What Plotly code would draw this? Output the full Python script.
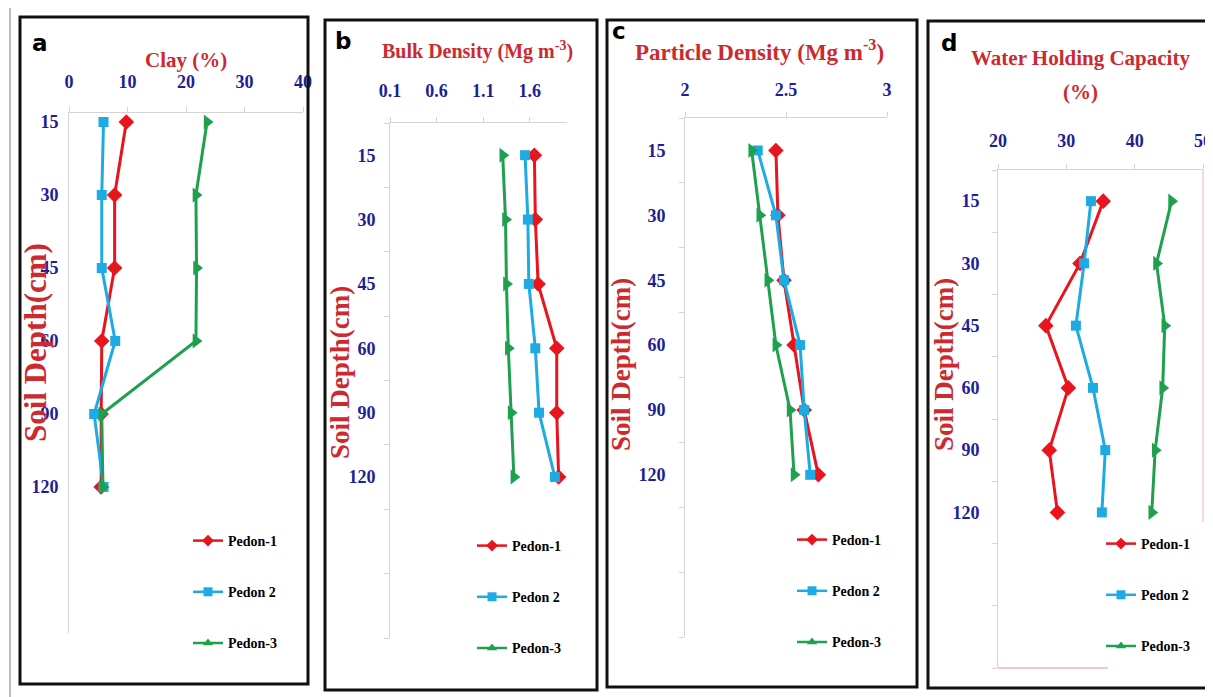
import plotly.graph_objects as go

# ---------------- data ----------------
depths = ["15", "30", "45", "60", "90", "120"]
series_names = ["Pedon-1", "Pedon 2", "Pedon-3"]

clay_p1 = [9.8, 7.8, 7.8, 5.6, 5.5, 5.5]
clay_p2 = [5.9, 5.6, 5.6, 7.9, 4.3, 5.9]
clay_p3 = [23.6, 21.7, 21.8, 21.7, 5.6, 5.8]

bd_p1 = [1.65, 1.66, 1.69, 1.89, 1.89, 1.91]
bd_p2 = [1.55, 1.58, 1.59, 1.66, 1.70, 1.87]
bd_p3 = [1.31, 1.34, 1.35, 1.37, 1.40, 1.43]

pd_p1 = [2.45, 2.46, 2.49, 2.54, 2.59, 2.66]
pd_p2 = [2.36, 2.45, 2.49, 2.57, 2.59, 2.62]
pd_p3 = [2.33, 2.37, 2.41, 2.45, 2.52, 2.54]

whc_p1 = [35.4, 32.0, 27.0, 30.3, 27.5, 28.7]
whc_p2 = [33.6, 32.6, 31.4, 33.9, 35.7, 35.2]
whc_p3 = [45.4, 43.2, 44.4, 44.1, 43.0, 42.5]

clay_ticks = [0, 10, 20, 30, 40]
bd_ticks = [0.1, 0.6, 1.1, 1.6]
pd_ticks = [2, 2.5, 3]
whc_ticks = [20, 30, 40, 50]

# ---------------- styling ----------------
W, H = 1213, 697
OFF = 8  # page body margin
def px(x): return (x - OFF) / W
def py(y): return 1 - (y - OFF) / H

colors = ["#e8141e", "#1eaae2", "#1fa04f"]
symbols = ["diamond", "square", "triangle-right"]
leg_symbols = ["diamond", "square", "triangle-up"]
sizes = [12, 10, 13]
title_red = "#cc2a2e"
tick_blue = "#1e1e96"
serif = "Liberation Serif"
axis_gray = "#d4d4d4"

pos = [i + 1 for i in range(len(depths))]

panels = [
    dict(key="", data=[clay_p1, clay_p2, clay_p3], ticks=clay_ticks,
         ticktext=[str(t) for t in clay_ticks], xr=[0, 40],
         xd=(69, 303), yd=(113, 633), yr=[8.0, 0.877], minor=False,
         ystand=6, xstand=12),
    dict(key="2", data=[bd_p1, bd_p2, bd_p3], ticks=bd_ticks,
         ticktext=["0.1", "0.6", "1.1", "1.6"], xr=[0.1, 2.0],
         xd=(390, 567), yd=(123, 638), yr=[8.5, 0.5], minor=True,
         ystand=10, xstand=13),
    dict(key="3", data=[pd_p1, pd_p2, pd_p3], ticks=pd_ticks,
         ticktext=["2", "2.5", "3"], xr=[2, 3],
         xd=(685, 887), yd=(118, 637), yr=[8.5, 0.5], minor=True,
         ystand=15, xstand=9),
    dict(key="4", data=[whc_p1, whc_p2, whc_p3], ticks=whc_ticks,
         ticktext=[str(t) for t in whc_ticks], xr=[20, 50],
         xd=(998, 1203), yd=(170, 668), yr=[8.5, 0.5], minor=True,
         ystand=14, xstand=10),
]

legend_pos = [(188, 525), (472, 530), (792, 524), (1101, 528)]

fig = go.Figure()
layout = dict(width=W, height=H,
              margin=dict(l=0, r=0, t=0, b=0, autoexpand=False),
              paper_bgcolor="white", plot_bgcolor="rgba(0,0,0,0)")

for pi, p in enumerate(panels):
    k = p["key"]
    xa, ya = "x" + k, "y" + k
    for si in range(3):
        fig.add_trace(go.Scatter(
            x=p["data"][si], y=pos, xaxis=xa, yaxis=ya, mode="lines+markers",
            line=dict(color=colors[si], width=3),
            marker=dict(symbol=symbols[si], size=sizes[si], color=colors[si]),
            showlegend=False, hoverinfo="skip"))
    lname = "legend" + k
    for si in range(3):
        fig.add_trace(go.Scatter(
            x=[None], y=[None], xaxis=xa, yaxis=ya, mode="lines+markers",
            name=series_names[si], legend=lname, legendgroup=f"g{pi}{si}",
            line=dict(color=colors[si], width=2.5),
            marker=dict(symbol=leg_symbols[si], size=9, color=colors[si])))
    lx, ly = legend_pos[pi]
    layout[lname] = dict(x=px(lx), y=py(ly), xanchor="left", yanchor="top",
                         bgcolor="white" if k == "4" else "rgba(0,0,0,0)",
                         borderwidth=0, traceorder="grouped", tracegroupgap=30,
                         font=dict(family=serif, size=14, color="black", weight="bold"))
    xaxis = dict(domain=[px(p["xd"][0]), px(p["xd"][1])], anchor=ya, side="top",
                 range=p["xr"], tickmode="array", tickvals=p["ticks"],
                 ticktext=p["ticktext"], showline=True, linecolor=axis_gray,
                 linewidth=1, ticks="outside", ticklen=5, tickcolor=axis_gray,
                 showgrid=False, zeroline=False, ticklabelstandoff=p["xstand"],
                 tickfont=dict(family=serif, size=18, color=tick_blue, weight="bold"))
    yaxis = dict(domain=[py(p["yd"][1]), py(p["yd"][0])], anchor=xa,
                 range=p["yr"], tickmode="array", tickvals=pos, ticktext=depths,
                 showline=True, linecolor=axis_gray, linewidth=1, ticks="",
                 showgrid=False, zeroline=False, ticklabelstandoff=p["ystand"],
                 tickfont=dict(family=serif, size=18, color=tick_blue, weight="bold"))
    if p["minor"]:
        yaxis["minor"] = dict(tickmode="array",
                              tickvals=[i + 0.5 for i in range(9)],
                              ticks="outside", ticklen=5, tickcolor=axis_gray,
                              showgrid=False)
    layout["xaxis" + k] = xaxis
    layout["yaxis" + k] = yaxis

fig.update_layout(**layout)

# ---------------- text ----------------
def ann(text, x, y, size, color, family=serif, angle=0, weight="bold"):
    fig.add_annotation(text=text, x=px(x), y=py(y), xref="paper", yref="paper",
                       showarrow=False, xanchor="center", yanchor="middle",
                       textangle=angle,
                       font=dict(family=family, size=size, color=color, weight=weight))

ann("Clay (%)", 186, 60, 21, title_red)
ann("Bulk Density (Mg m<sup>-3</sup>)", 477, 50, 20, title_red)
ann("Particle Density (Mg m<sup>-3</sup>)", 759, 50, 23, title_red)
ann("Water Holding Capacity", 1080, 58, 21, title_red)
ann("(%)", 1080, 92, 21, title_red)

ann("Soil Depth(cm)", 35, 343, 31, title_red, angle=-90)
ann("Soil Depth(cm)", 340, 373, 27, title_red, angle=-90)
ann("Soil Depth(cm)", 621, 365, 27, title_red, angle=-90)
ann("Soil Depth(cm)", 944, 365, 27, title_red, angle=-90)

ann("a", 40, 43, 23, "black", family="DejaVu Sans")
ann("b", 343, 41, 23, "black", family="DejaVu Sans")
ann("c", 619, 31, 23, "black", family="DejaVu Sans")
ann("d", 949, 43, 23, "black", family="DejaVu Sans")

# ---------------- frames ----------------
def rect(x0, y0, x1, y1, color="#111111", width=3):
    fig.add_shape(type="rect", xref="paper", yref="paper",
                  x0=px(x0), x1=px(x1), y0=py(y1), y1=py(y0),
                  line=dict(color=color, width=width), fillcolor="rgba(0,0,0,0)")

def seg(x0, y0, x1, y1, color, width):
    fig.add_shape(type="line", xref="paper", yref="paper",
                  x0=px(x0), x1=px(x1), y0=py(y0), y1=py(y1),
                  line=dict(color=color, width=width))

seg(10, 5, 1213, 5, "#bdbdbd", 2)
seg(10, 5, 10, 697, "#bdbdbd", 2)
rect(20, 17, 308, 684)
rect(325, 20, 597, 690)
rect(607, 20, 917, 687)
rect(928, 21, 1218, 688)
# light red plot-area border of panel d
seg(1203, 170, 1203, 522, "#f0b4b4", 1)
seg(998, 668, 1108, 668, "#f0b4b4", 1.5)

fig.write_html("out.html")
